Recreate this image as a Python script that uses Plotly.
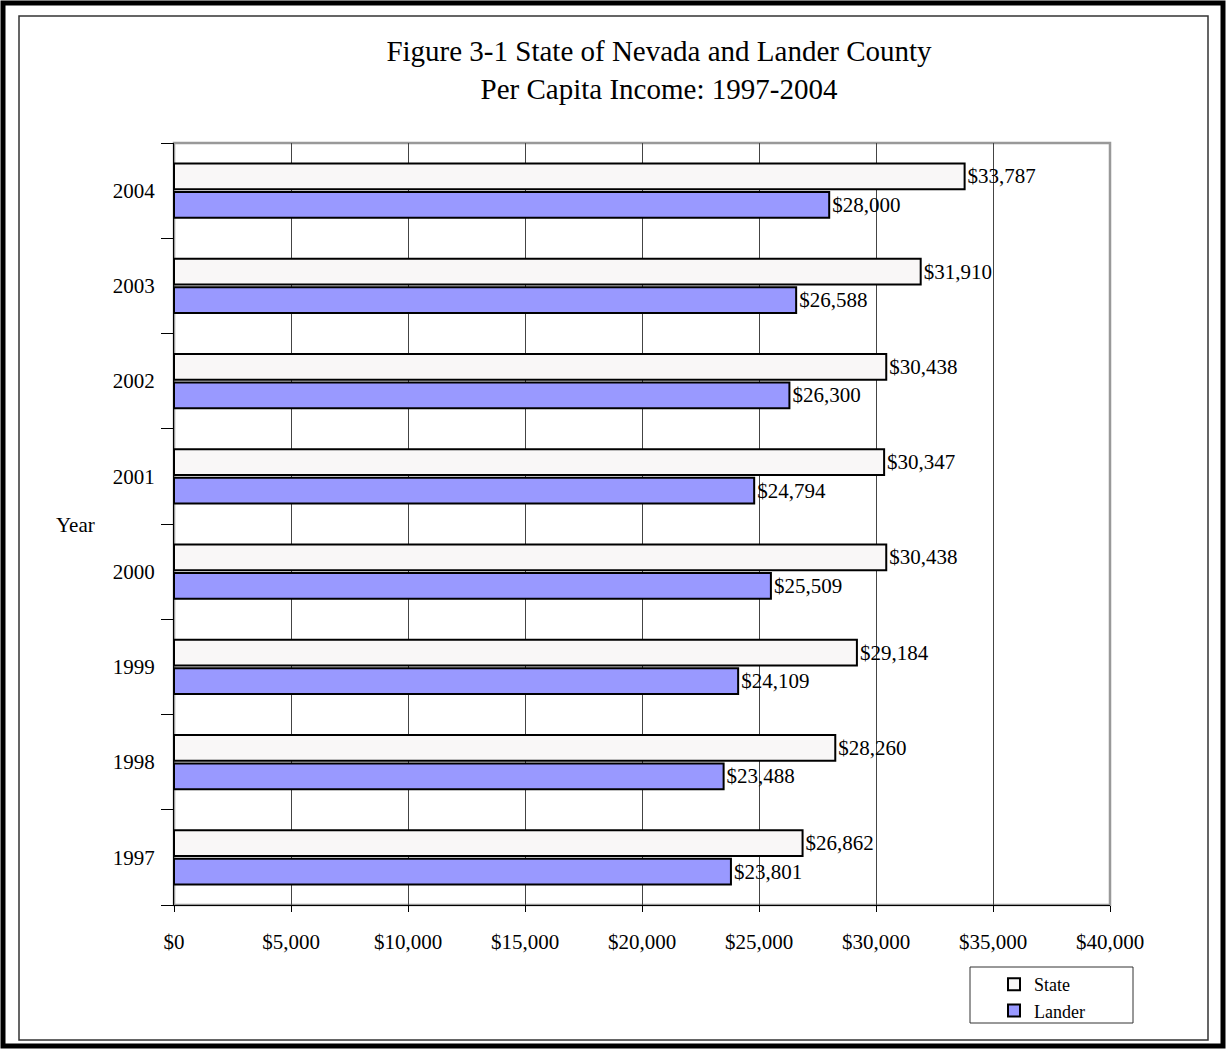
import plotly.graph_objects as go

years = ["1997", "1998", "1999", "2000", "2001", "2002", "2003", "2004"]
state = [26862, 28260, 29184, 30438, 30347, 30438, 31910, 33787]
lander = [23801, 23488, 24109, 25509, 24794, 26300, 26588, 28000]
x_ticks = [0, 5000, 10000, 15000, 20000, 25000, 30000, 35000, 40000]
x_labels = ["$0", "$5,000", "$10,000", "$15,000", "$20,000", "$25,000", "$30,000", "$35,000", "$40,000"]

W, H = 1226, 1049
L, R, T, B = 174, 116, 143, 144
pw, ph = W - L - R, H - T - B

def px(x):
    return (x - L) / pw

def py(y):
    return (H - B - y) / ph

FONT = "Liberation Serif"
FS = 21

fig = go.Figure()
fig.add_trace(go.Bar(
    y=years, x=lander, name="Lander", orientation="h",
    marker=dict(color="#9999ff", line=dict(color="black", width=2)),
    texttemplate="$%{x:,.0f}", textposition="outside",
    textfont=dict(family=FONT, size=FS, color="black"),
    cliponaxis=False, legendrank=2,
))
fig.add_trace(go.Bar(
    y=years, x=state, name="State", orientation="h",
    marker=dict(color="#f9f7f7", line=dict(color="black", width=2)),
    texttemplate="$%{x:,.0f}", textposition="outside",
    textfont=dict(family=FONT, size=FS, color="black"),
    cliponaxis=False, legendrank=1,
))

shapes = [
    dict(type="rect", xref="paper", yref="paper", x0=px(3), x1=px(1223), y0=py(3), y1=py(1046),
         line=dict(color="black", width=5), layer="below"),
    dict(type="rect", xref="paper", yref="paper", x0=px(19), x1=px(1208), y0=py(16), y1=py(1040),
         line=dict(color="#333333", width=1.5), layer="below"),
    dict(type="rect", xref="paper", yref="paper", x0=0, x1=1, y0=0, y1=1,
         line=dict(color="#999999", width=2.5), layer="below"),
    dict(type="rect", xref="paper", yref="paper", x0=px(970), x1=px(1133), y0=py(967), y1=py(1023),
         line=dict(color="#333333", width=1), layer="below"),
]

fig.update_layout(
    width=W, height=H,
    margin=dict(l=L, r=R, t=T, b=B),
    paper_bgcolor="white", plot_bgcolor="white",
    barmode="group", bargap=0.40, bargroupgap=0.10,
    font=dict(family=FONT, size=FS, color="black"),
    title=dict(text="Figure 3-1 State of Nevada and Lander County<br>Per Capita Income: 1997-2004",
               x=659 / W, xanchor="center", y=1 - 61 / H, yanchor="middle",
               font=dict(family=FONT, size=29, color="black")),
    xaxis=dict(range=[0, 40000], tickvals=x_ticks, ticktext=x_labels,
               showgrid=True, gridcolor="#444444", gridwidth=1,
               showline=True, linecolor="black", linewidth=1,
               ticks="outside", ticklen=6, tickcolor="black",
               ticklabelstandoff=12, zeroline=False, fixedrange=True),
    yaxis=dict(categoryorder="array", categoryarray=years,
               showline=True, linecolor="black", linewidth=1,
               ticks="outside", tickson="boundaries", ticklen=12, tickcolor="black",
               showgrid=False, zeroline=False, ticklabelstandoff=14),
    showlegend=True,
    legend=dict(x=px(994), y=py(966), xanchor="left", yanchor="top",
                bgcolor="rgba(0,0,0,0)", borderwidth=0,
                font=dict(family=FONT, size=18, color="black"),
                tracegroupgap=0, itemsizing="constant"),
    shapes=shapes,
    annotations=[dict(text="Year", x=px(75), y=py(525), xref="paper", yref="paper",
                      xanchor="center", yanchor="middle",
                      showarrow=False, font=dict(family=FONT, size=FS, color="black"))],
)

fig.write_html("out.html", config={"displayModeBar": False},
               post_script="document.body.style.margin='0';document.body.style.overflow='hidden';")
